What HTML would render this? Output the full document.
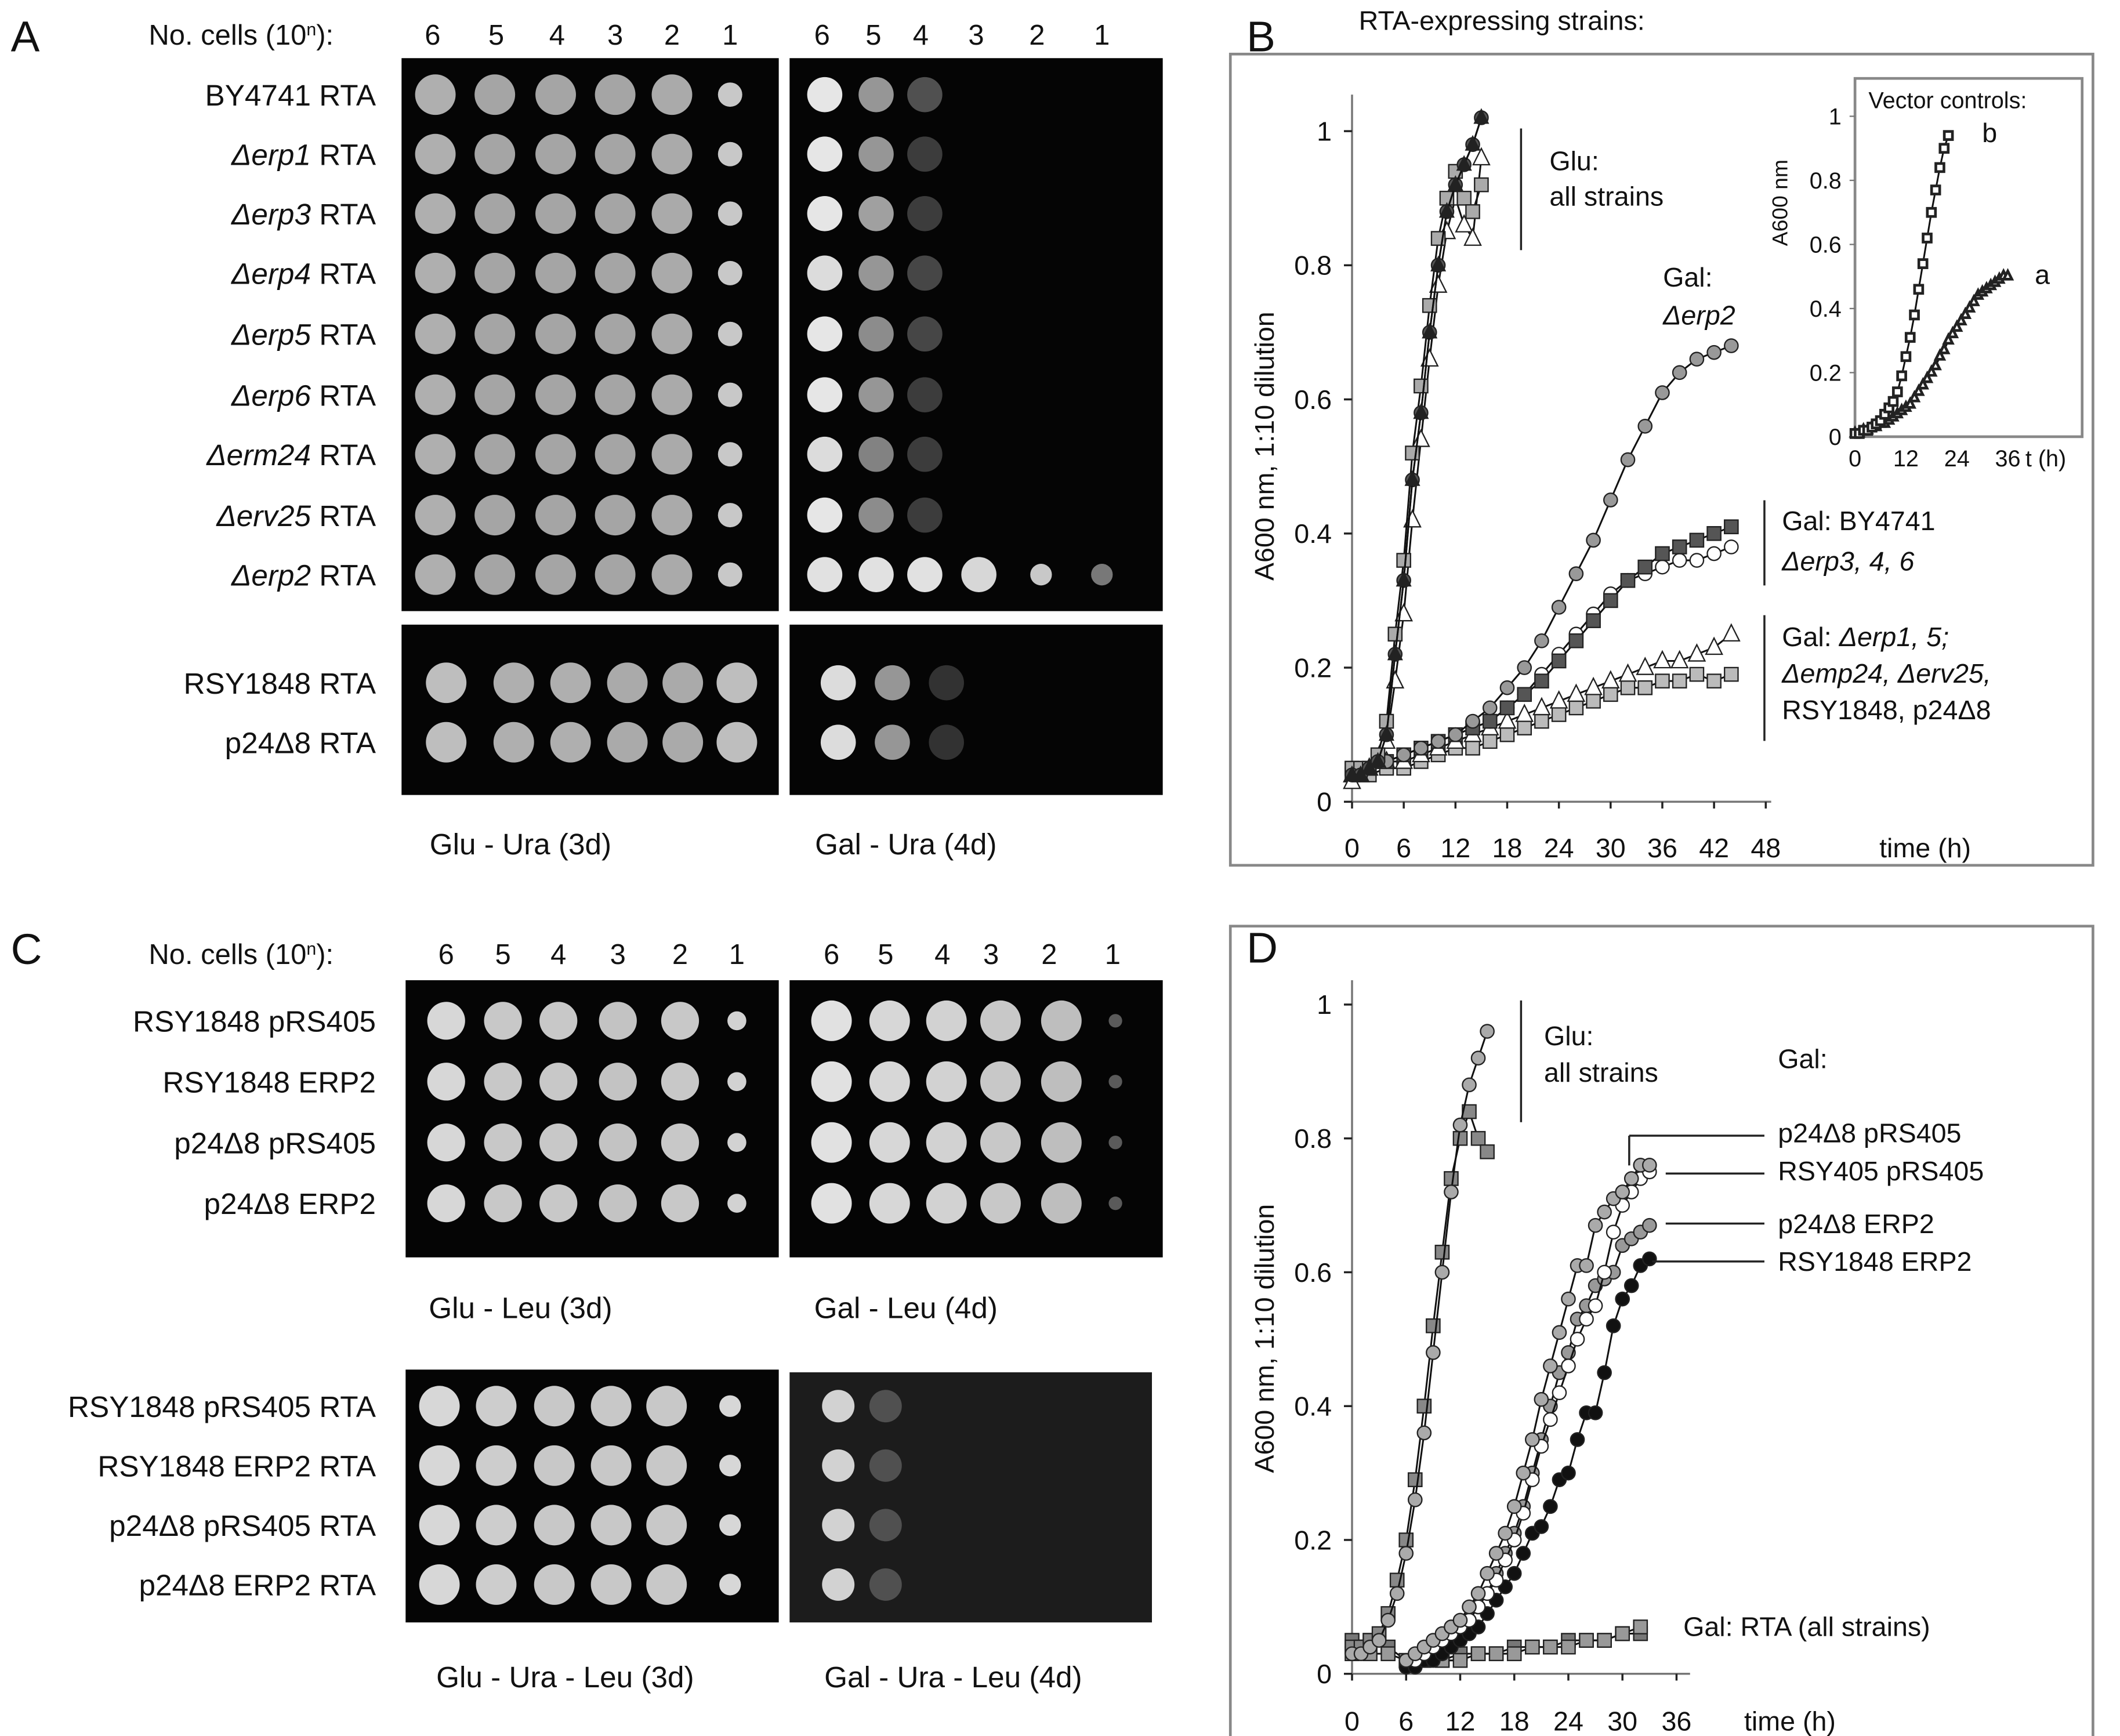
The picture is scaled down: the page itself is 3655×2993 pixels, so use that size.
<!DOCTYPE html>
<html><head><meta charset="utf-8"><style>
html,body{margin:0;padding:0;background:#fff}
svg{display:block}
text{font-family:"Liberation Sans",sans-serif;fill:#111}
</style></head><body>
<svg id="fig" width="3655" height="2993" viewBox="0 0 1568 1284" xmlns="http://www.w3.org/2000/svg">
<g id="A"></g>
<g id="B"></g>
<g id="C"></g>
<g id="D"></g>
</svg>
<script>
// ---- Panel B data ----
const gluT = [0,1,2,3,4,5,6,7,8,9,10,11,12,13,14,15];
const gluB1 = [0.04,0.04,0.05,0.06,0.10,0.22,0.33,0.48,0.58,0.70,0.80,0.88,0.92,0.95,0.98,1.02];
const gluB2 = [0.05,0.05,0.05,0.07,0.12,0.25,0.36,0.52,0.62,0.74,0.84,0.90,0.94,0.90,0.88,0.92];
const gluB3 = [0.03,0.04,0.05,0.06,0.09,0.18,0.28,0.42,0.54,0.66,0.77,0.85,0.90,0.86,0.84,0.96];
const galT = [0,2,4,6,8,10,12,14,16,18,20,22,24,26,28,30,32,34,36,38,40,42,44];
const galErp2 = [0.04,0.05,0.06,0.07,0.08,0.09,0.10,0.12,0.14,0.17,0.20,0.24,0.29,0.34,0.39,0.45,0.51,0.56,0.61,0.64,0.66,0.67,0.68];
const galMid1 = [0.04,0.05,0.06,0.07,0.08,0.09,0.10,0.11,0.12,0.14,0.16,0.18,0.21,0.24,0.27,0.30,0.33,0.35,0.37,0.38,0.39,0.40,0.41];
const galMid2 = [0.05,0.05,0.06,0.07,0.08,0.09,0.10,0.11,0.12,0.14,0.16,0.19,0.22,0.25,0.28,0.31,0.33,0.34,0.35,0.36,0.36,0.37,0.38];
const galLow1 = [0.04,0.05,0.06,0.06,0.07,0.08,0.09,0.10,0.11,0.12,0.13,0.14,0.15,0.16,0.17,0.18,0.19,0.20,0.21,0.21,0.22,0.23,0.25];
const galLow2 = [0.05,0.04,0.05,0.05,0.06,0.07,0.08,0.08,0.09,0.10,0.11,0.12,0.13,0.14,0.15,0.16,0.17,0.17,0.18,0.18,0.19,0.18,0.19];
const insTb = [0,1,2,3,4,5,6,7,8,9,10,11,12,13,14,15,16,17,18,19,20,21,22];
const insB = [0.01,0.01,0.02,0.02,0.03,0.04,0.05,0.07,0.09,0.11,0.14,0.19,0.25,0.31,0.38,0.46,0.54,0.62,0.70,0.77,0.84,0.90,0.94];
const insTa = [0,1,2,3,4,5,6,7,8,9,10,11,12,13,14,15,16,17,18,19,20,21,22,23,24,25,26,27,28,29,30,31,32,33,34,35,36];
const insA = [0.01,0.01,0.02,0.02,0.03,0.03,0.04,0.04,0.05,0.06,0.07,0.08,0.09,0.10,0.12,0.14,0.16,0.18,0.20,0.22,0.25,0.27,0.30,0.32,0.34,0.36,0.38,0.40,0.42,0.44,0.45,0.46,0.47,0.48,0.49,0.50,0.50];
const bYTicks = ["0","0.2","0.4","0.6","0.8","1"];
const bXTicks = ["0","6","12","18","24","30","36","42","48"];
// ---- Panel D data ----
const dGluT = [0,1,2,3,4,5,6,7,8,9,10,11,12,13,14,15];
const dGlu1 = [0.03,0.03,0.04,0.05,0.08,0.12,0.18,0.26,0.36,0.48,0.60,0.72,0.82,0.88,0.92,0.96];
const dGlu2 = [0.04,0.04,0.05,0.06,0.09,0.14,0.20,0.29,0.40,0.52,0.63,0.74,0.80,0.84,0.80,0.78];
const dGalT = [6,7,8,9,10,11,12,13,14,15,16,17,18,19,20,21,22,23,24,25,26,27,28,29,30,31,32,33];
const dGal1 = [0.02,0.03,0.04,0.05,0.06,0.07,0.08,0.10,0.12,0.15,0.18,0.21,0.25,0.30,0.35,0.41,0.46,0.51,0.56,0.61,0.61,0.67,0.69,0.71,0.72,0.74,0.76,0.76];
const dGal2 = [0.02,0.02,0.03,0.04,0.05,0.06,0.07,0.08,0.10,0.12,0.14,0.17,0.20,0.24,0.29,0.34,0.38,0.42,0.46,0.50,0.53,0.55,0.60,0.66,0.70,0.72,0.74,0.75];
const dGal3 = [0.02,0.02,0.03,0.04,0.05,0.06,0.07,0.08,0.10,0.12,0.15,0.18,0.21,0.25,0.30,0.35,0.40,0.45,0.48,0.53,0.55,0.58,0.59,0.60,0.64,0.65,0.66,0.67];
const dGal4 = [0.01,0.01,0.02,0.02,0.03,0.04,0.05,0.06,0.07,0.09,0.11,0.13,0.15,0.18,0.21,0.22,0.25,0.29,0.30,0.35,0.39,0.39,0.45,0.52,0.56,0.58,0.61,0.62];
const dRtaT = [0,2,4,6,8,10,12,14,16,18,20,22,24,26,28,30,32];
const dRta = [0.03,0.03,0.03,0.02,0.02,0.02,0.02,0.03,0.03,0.03,0.04,0.04,0.04,0.05,0.05,0.06,0.07];
const dRta2 = [0.05,0.05,0.04,0.02,0.02,0.02,0.03,0.03,0.03,0.04,0.04,0.04,0.05,0.05,0.05,0.06,0.06];
const dXTicks = ["0","6","12","18","24","30","36"];

const NS="http://www.w3.org/2000/svg";
function mk(tag,attrs,parent){const e=document.createElementNS(NS,tag);for(const k in attrs)e.setAttribute(k,attrs[k]);parent.appendChild(e);return e;}
function txt(parent,x,y,s,size,anchor,name,style){const t=mk('text',{x:x,y:y,'font-size':size,'text-anchor':anchor||'start'},parent);if(style)t.setAttribute('font-style',style);t.textContent=s;


return t;}

function plate(parent,x,y,w,h,bg,name){const r=mk('rect',{x:x,y:y,width:w,height:h,fill:bg},parent);

}
function spot(parent,cx,cy,r,g){if(g<=0)return;const c=mk('circle',{cx:cx,cy:cy,r:r,fill:`rgb(${g},${g},${g})`},parent);

}
function header(parent,y,xsL,xsR){txt(parent,110,y,"No. cells (10",21,'start','no-cells-label').innerHTML='No. cells (10<tspan baseline-shift="super" font-size="13">n</tspan>):';
["6","5","4","3","2","1"].forEach((s,i)=>{txt(parent,xsL[i],y,s,21,'middle','dilution-label');txt(parent,xsR[i],y,s,21,'middle','dilution-label');});}

// Panel A
const A=document.getElementById('A');
txt(A,8,38,"A",32,'start','panel-label-a');
header(A,33,[320,367,412,455,497,540],[608,646,681,722,767,815]);
plate(A,297,43,279,409,'#050505','glu-plate-a');plate(A,584,43,276,409,'#050505','gal-plate-a');
plate(A,297,462,279,126,'#050505','glu-plate-a2');plate(A,584,462,276,126,'#050505','gal-plate-a2');
const aNames=[["BY4741"," RTA"],["Δerp1"," RTA"],["Δerp3"," RTA"],["Δerp4"," RTA"],["Δerp5"," RTA"],["Δerp6"," RTA"],["Δerm24"," RTA"],["Δerv25"," RTA"],["Δerp2"," RTA"]];
const aRows=[70,114,158,202,247,292,336,381,425];
const lx=[322,366,411,455,497,540], rx=[610,648,684,724,770,815];
const galA=[[230,150,80,0,0,0],[230,150,60,0,0,0],[230,160,60,0,0,0],[220,150,70,0,0,0],[230,140,70,0,0,0],[230,150,60,0,0,0],[220,130,60,0,0,0],[230,140,60,0,0,0],[225,225,225,215,200,120]];
aNames.forEach((n,i)=>{const y=aRows[i];const t=txt(A,278,y+8,"",22,'end','strain-label');
 if(i===0)t.textContent="BY4741 RTA";else t.innerHTML=`<tspan font-style="italic">${n[0]}</tspan>${n[1]}`;
 lx.forEach((x,j)=>spot(A,x,y,j<5?15:9,[175,165,165,165,170,200][j]));
 rx.forEach((x,j)=>spot(A,x,y,j<4?13:8,galA[i][j]));});
[["RSY1848 RTA",505],["p24Δ8 RTA",549]].forEach((r,i)=>{txt(A,278,r[1]+8,r[0],22,'end','strain-label');
 [330,380,422,464,505,545].forEach((x,j)=>spot(A,x,r[1],15,[190,175,175,170,170,190][j]));
 [620,660,700].forEach((x,j)=>spot(A,x,r[1],13,[220,150,50][j]));});
txt(A,385,632,"Glu - Ura (3d)",22,'middle','condition-label');txt(A,670,632,"Gal - Ura (4d)",22,'middle','condition-label');

// Panel C
const C=document.getElementById('C');
txt(C,8,713,"C",32,'start','panel-label-c');
header(C,713,[330,372,413,457,503,545],[615,655,697,733,776,823]);
plate(C,300,725,276,205,'#050505','glu-plate-c');plate(C,584,725,276,205,'#050505','gal-plate-c');
plate(C,300,1013,276,187,'#050505','glu-plate-c2');plate(C,584,1015,268,185,'#1c1c1c','gal-plate-c2');
const cN=["RSY1848 pRS405","RSY1848 ERP2","p24Δ8 pRS405","p24Δ8 ERP2"];const cR=[755,800,845,890];
cN.forEach((n,i)=>{txt(C,278,cR[i]+8,n,22,'end','strain-label');
 [330,372,413,457,503,545].forEach((x,j)=>spot(C,x,cR[i],j<5?14:7,[215,200,200,195,200,210][j]));
 [615,658,700,740,785,825].forEach((x,j)=>spot(C,x,cR[i],j<5?15:5,[225,215,210,200,190,90][j]));});
txt(C,385,975,"Glu - Leu (3d)",22,'middle','condition-label');txt(C,670,975,"Gal - Leu (4d)",22,'middle','condition-label');
const cN2=["RSY1848 pRS405 RTA","RSY1848 ERP2 RTA","p24Δ8 pRS405 RTA","p24Δ8 ERP2 RTA"];const cR2=[1040,1084,1128,1172];
cN2.forEach((n,i)=>{txt(C,278,cR2[i]+8,n,22,'end','strain-label');
 [325,367,410,452,493,540].forEach((x,j)=>spot(C,x,cR2[i],j<5?15:8,[215,205,200,200,200,215][j]));
 [620,655].forEach((x,j)=>spot(C,x,cR2[i],12,[210,80][j]));});
txt(C,418,1248,"Glu - Ura - Leu (3d)",22,'middle','condition-label');txt(C,705,1248,"Gal - Ura - Leu (4d)",22,'middle','condition-label');

// ---------- charts ----------
function marker(parent,x,y,type,fill,r,sw){let e;sw=sw||1;
 if(type==='c')e=mk('circle',{cx:x,cy:y,r:r,fill:fill,stroke:'#222','stroke-width':sw},parent);
 else if(type==='s')e=mk('rect',{x:x-r,y:y-r,width:2*r,height:2*r,fill:fill,stroke:'#222','stroke-width':sw},parent);
 else e=mk('polygon',{points:`${x},${y-r-1} ${x-r},${y+r-1} ${x+r},${y+r-1}`,fill:fill,stroke:'#222','stroke-width':sw},parent);
 
 }
function series(parent,xs,ys,X,Y,type,fill,r,name,sw){const pts=[];xs.forEach((t,i)=>{if(ys[i]!==null)pts.push(X(t)+','+Y(ys[i]));});
 const p=mk('polyline',{points:pts.join(' '),fill:'none',stroke:'#111','stroke-width':1.3},parent);
 
 
 xs.forEach((t,i)=>{if(ys[i]!==null)marker(parent,X(t),Y(ys[i]),type,fill,r,sw);});}
function line(parent,x1,y1,x2,y2,name,w,col){const l=mk('line',{x1:x1,y1:y1,x2:x2,y2:y2,stroke:col||'#222','stroke-width':w||1.5},parent);
 
 }

// Panel B
const B=document.getElementById('B');
txt(B,922,38,"B",32,'start','panel-label-b');
txt(B,1005,22,"RTA-expressing strains:",20,'start','panel-b-title');
const fb=mk('rect',{x:910,y:40,width:638,height:600,fill:'none',stroke:'#888','stroke-width':2},B);

const bX=t=>1000+t*(306/48), bY=v=>593-v*496;
line(B,1000,70,1000,593,'y-axis-b',1.5,'#777');line(B,1000,593,1310,593,'x-axis-b',1.5,'#777');
bYTicks.forEach(s=>{const v=parseFloat(s);line(B,994,bY(v),1000,bY(v),'y-tick');txt(B,985,bY(v)+7,s,20,'end','y-tick-label');});
bXTicks.forEach(s=>{const v=parseFloat(s);line(B,bX(v),593,bX(v),598,'x-tick');txt(B,bX(v),634,s,20,'middle','x-tick-label');});
txt(B,1390,634,"time (h)",20,'start','x-axis-title-b');
const yt=txt(B,0,0,"A600 nm, 1:10 dilution",20,'middle','y-axis-title-b');yt.setAttribute('transform','translate(942,330) rotate(-90)');
series(B,galT,galLow2,bX,bY,'s','#bbb',5,'series-gal-low-sq');
series(B,galT,galLow1,bX,bY,'t','#fff',6,'series-gal-low-tri');
series(B,galT,galMid2,bX,bY,'c','#fff',5,'series-gal-mid-c');
series(B,galT,galMid1,bX,bY,'s','#555',5,'series-gal-mid-sq');
series(B,galT,galErp2,bX,bY,'c','#999',5,'series-gal-erp2');
series(B,gluT,gluB3,bX,bY,'t','#fff',6,'series-glu-tri');
series(B,gluT,gluB2,bX,bY,'s','#aaa',5,'series-glu-sq');
series(B,gluT,gluB1,bX,bY,'c','#555',5,'series-glu-c');
series(B,gluT,gluB1,bX,bY,'t','#222',5,'series-glu-black');
line(B,1125,95,1125,185,'bracket-glu');
txt(B,1146,126,"Glu:",20,'start','annot');txt(B,1146,152,"all strains",20,'start','annot');
txt(B,1230,212,"Gal:",20,'start','annot');txt(B,1230,240,"Δerp2",20,'start','annot','italic');
line(B,1305,370,1305,433,'bracket-gal-mid');
txt(B,1318,392,"Gal:  BY4741",20,'start','annot');txt(B,1318,422,"Δerp3, 4, 6",20,'start','annot','italic');
line(B,1305,455,1305,548,'bracket-gal-low');
const t1=txt(B,1318,478,"",20,'start','annot');t1.innerHTML='Gal:  <tspan font-style="italic">Δerp1, 5;</tspan>';
txt(B,1318,505,"Δemp24, Δerv25,",20,'start','annot','italic');
txt(B,1318,532,"RSY1848, p24Δ8",20,'start','annot');
// inset
const iX=t=>1372+t*(113/36), iY=v=>323-v*237;
const ib=mk('rect',{x:1372,y:58,width:168,height:265,fill:'#fff',stroke:'#888','stroke-width':2},B);

["0","0.2","0.4","0.6","0.8","1"].forEach(s=>{const v=parseFloat(s);line(B,1368,iY(v),1372,iY(v),'inset-y-tick-mark',1,'#777');txt(B,1362,iY(v)+6,s,17,'end','inset-y-tick');});
["0","12","24","36"].forEach(s=>{const v=parseFloat(s);txt(B,iX(v),345,s,17,'middle','inset-x-tick');});
txt(B,1498,345,"t (h)",17,'start','inset-x-title');
const it=txt(B,0,0,"A600 nm",16,'middle','inset-y-title');it.setAttribute('transform','translate(1322,150) rotate(-90)');
txt(B,1382,80,"Vector controls:",17,'start','inset-title');
series(B,insTa,insA,iX,iY,'t','#fff',3,'inset-series-a',2);
series(B,insTb,insB,iX,iY,'s','#fff',3,'inset-series-b',2);
txt(B,1466,105,"b",20,'start','annot-b');txt(B,1505,210,"a",20,'start','annot-a');

// Panel D
const D=document.getElementById('D');
txt(D,922,712,"D",32,'start','panel-label-d');
const fd=mk('rect',{x:910,y:685,width:638,height:610,fill:'none',stroke:'#888','stroke-width':2},D);

const dX=t=>1000+t*(240/36), dY=v=>1238-v*495;
line(D,1000,725,1000,1238,'y-axis-d',1.5,'#777');line(D,1000,1238,1250,1238,'x-axis-d',1.5,'#777');
bYTicks.forEach(s=>{const v=parseFloat(s);line(D,994,dY(v),1000,dY(v),'y-tick');txt(D,985,dY(v)+7,s,20,'end','y-tick-label');});
dXTicks.forEach(s=>{const v=parseFloat(s);line(D,dX(v),1238,dX(v),1243,'x-tick');txt(D,dX(v),1280,s,20,'middle','x-tick-label');});
txt(D,1290,1280,"time (h)",20,'start','x-axis-title-d');
const yd=txt(D,0,0,"A600 nm, 1:10 dilution",20,'middle','y-axis-title-d');yd.setAttribute('transform','translate(942,990) rotate(-90)');
series(D,dRtaT,dRta2,dX,dY,'s','#777',5,'series-gal-rta-2');
series(D,dRtaT,dRta,dX,dY,'s','#999',5,'series-gal-rta');
series(D,dGalT,dGal4,dX,dY,'c','#111',5,'series-rsy1848-erp2');
series(D,dGalT,dGal3,dX,dY,'c','#999',5,'series-p24-erp2');
series(D,dGalT,dGal2,dX,dY,'c','#fff',5,'series-rsy405');
series(D,dGalT,dGal1,dX,dY,'c','#aaa',5,'series-p24-prs405');
series(D,dGluT,dGlu2,dX,dY,'s','#888',5,'series-glu-sq-d');
series(D,dGluT,dGlu1,dX,dY,'c','#aaa',5,'series-glu-c-d');
line(D,1125,740,1125,830,'bracket-glu-d');
txt(D,1142,773,"Glu:",20,'start','annot');txt(D,1142,800,"all strains",20,'start','annot');
txt(D,1315,790,"Gal:",20,'start','annot');
line(D,1205,862,1205,840,'leader');line(D,1205,840,1305,840,'leader');txt(D,1315,845,"p24Δ8 pRS405",20,'start','annot');
line(D,1232,868,1305,868,'leader');txt(D,1315,873,"RSY405 pRS405",20,'start','annot');
line(D,1232,905,1305,905,'leader');txt(D,1315,912,"p24Δ8 ERP2",20,'start','annot');
line(D,1222,933,1305,933,'leader');txt(D,1315,940,"RSY1848 ERP2",20,'start','annot');
txt(D,1245,1210,"Gal: RTA (all strains)",20,'start','annot');
</script>
</body></html>
